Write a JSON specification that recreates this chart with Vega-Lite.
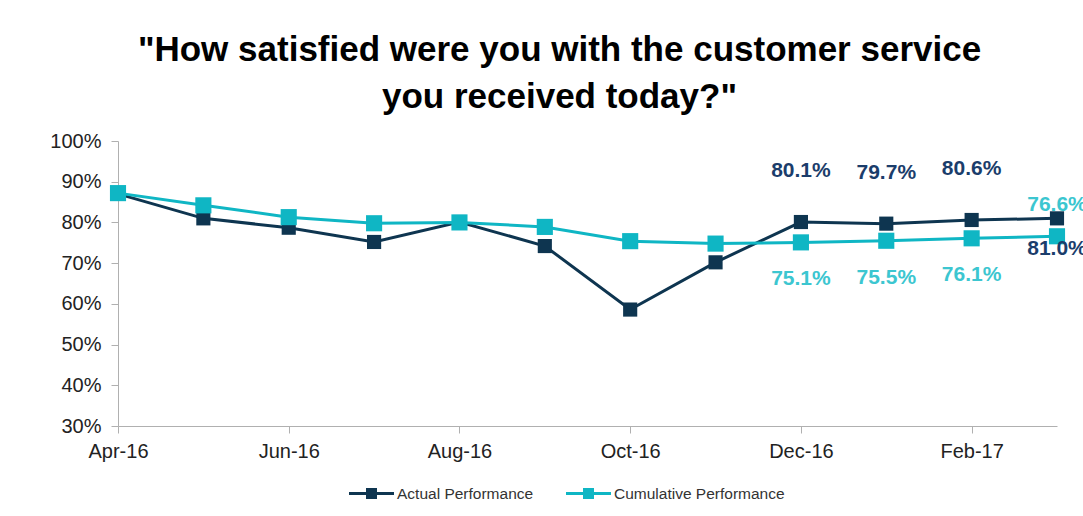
{
  "$schema": "https://vega.github.io/schema/vega-lite/v6.json",
  "autosize": {"type": "none"},
  "padding": {"left": 118, "top": 141, "right": 26, "bottom": 90},
  "width": 939,
  "height": 285,
  "background": "white",
  "title": {
    "text": ["\"How satisfied were you with the customer service", "you received today?\""],
    "font": "Liberation Sans",
    "fontSize": 35,
    "fontWeight": "bold",
    "color": "#000000",
    "lineHeight": 47,
    "anchor": "middle",
    "dx": -28,
    "offset": 16
  },
  "config": {
    "view": {"stroke": null},
    "axis": {"grid": false, "labelFont": "Liberation Sans", "labelColor": "#222222", "labelFontSize": 20, "domainColor": "#b0b0b0", "tickColor": "#b0b0b0", "tickSize": 7, "titleFontSize": 0}
  },
  "data": {
    "values": [
      {"month": "Apr-16", "series": "Actual Performance", "value": 0.870},
      {"month": "May-16", "series": "Actual Performance", "value": 0.810},
      {"month": "Jun-16", "series": "Actual Performance", "value": 0.787},
      {"month": "Jul-16", "series": "Actual Performance", "value": 0.752},
      {"month": "Aug-16", "series": "Actual Performance", "value": 0.801},
      {"month": "Sep-16", "series": "Actual Performance", "value": 0.742},
      {"month": "Oct-16", "series": "Actual Performance", "value": 0.586},
      {"month": "Nov-16", "series": "Actual Performance", "value": 0.702},
      {"month": "Dec-16", "series": "Actual Performance", "value": 0.801},
      {"month": "Jan-17", "series": "Actual Performance", "value": 0.797},
      {"month": "Feb-17", "series": "Actual Performance", "value": 0.806},
      {"month": "Mar-17", "series": "Actual Performance", "value": 0.810},
      {"month": "Apr-16", "series": "Cumulative Performance", "value": 0.872},
      {"month": "May-16", "series": "Cumulative Performance", "value": 0.842},
      {"month": "Jun-16", "series": "Cumulative Performance", "value": 0.813},
      {"month": "Jul-16", "series": "Cumulative Performance", "value": 0.798},
      {"month": "Aug-16", "series": "Cumulative Performance", "value": 0.800},
      {"month": "Sep-16", "series": "Cumulative Performance", "value": 0.789},
      {"month": "Oct-16", "series": "Cumulative Performance", "value": 0.754},
      {"month": "Nov-16", "series": "Cumulative Performance", "value": 0.748},
      {"month": "Dec-16", "series": "Cumulative Performance", "value": 0.751},
      {"month": "Jan-17", "series": "Cumulative Performance", "value": 0.755},
      {"month": "Feb-17", "series": "Cumulative Performance", "value": 0.761},
      {"month": "Mar-17", "series": "Cumulative Performance", "value": 0.766}
    ]
  },
  "encoding": {
    "x": {
      "field": "month", "type": "ordinal",
      "sort": ["Apr-16","May-16","Jun-16","Jul-16","Aug-16","Sep-16","Oct-16","Nov-16","Dec-16","Jan-17","Feb-17","Mar-17"],
      "scale": {"type": "point", "padding": 0},
      "axis": {"title": null, "labelAngle": 0, "values": ["Apr-16","Jun-16","Aug-16","Oct-16","Dec-16","Feb-17"], "labelPadding": 8}
    },
    "y": {
      "field": "value", "type": "quantitative",
      "scale": {"domain": [0.3, 1.0], "nice": false, "zero": false},
      "axis": {"title": null, "values": [0.3,0.4,0.5,0.6,0.7,0.8,0.9,1.0], "format": ".0%", "labelPadding": 10}
    },
    "color": {
      "field": "series", "type": "nominal",
      "scale": {"domain": ["Actual Performance", "Cumulative Performance"], "range": ["#0e3550", "#0fb6c4"]},
      "legend": {
        "title": null, "orient": "none", "direction": "horizontal",
        "legendX": 231, "legendY": 330,
        "symbolType": "M-1,-0.067H1V0.067H-1Z M-0.244,-0.244H0.244V0.244H-0.244Z",
        "symbolSize": 2025, "symbolStrokeWidth": 0,
        "labelFont": "Liberation Sans", "labelFontSize": 15.5, "labelColor": "#333333", "labelLimit": 300,
        "labelOffset": 3, "columnPadding": 32,
        "encode": {"symbols": {"update": {"fill": {"scale": "color", "field": "value"}, "fillOpacity": {"value": 1}, "strokeWidth": {"value": 0}}}}
      }
    }
  },
  "layer": [
    {"mark": {"type": "line", "strokeWidth": 3}},
    {
      "transform": [{"filter": {"field": "series", "equal": "Actual Performance"}}],
      "mark": {"type": "point", "shape": "square", "filled": true, "opacity": 1, "size": 200}
    },
    {
      "transform": [{"filter": {"field": "series", "equal": "Cumulative Performance"}}],
      "mark": {"type": "point", "shape": "square", "filled": true, "opacity": 1, "size": 260}
    },
    {
      "transform": [{"filter": {"and": [{"field": "series", "equal": "Actual Performance"}, {"field": "month", "oneOf": ["Dec-16", "Jan-17", "Feb-17"]}]}}],
      "mark": {"type": "text", "dy": -51, "font": "Liberation Sans", "fontSize": 21, "fontWeight": "bold"},
      "encoding": {"text": {"field": "value", "type": "quantitative", "format": ".1%"}, "color": {"value": "#1b3d6b"}}
    },
    {
      "transform": [{"filter": {"and": [{"field": "series", "equal": "Cumulative Performance"}, {"field": "month", "oneOf": ["Dec-16", "Jan-17", "Feb-17"]}]}}],
      "mark": {"type": "text", "dy": 37, "font": "Liberation Sans", "fontSize": 21, "fontWeight": "bold"},
      "encoding": {"text": {"field": "value", "type": "quantitative", "format": ".1%"}, "color": {"value": "#3cc6d0"}}
    },
    {
      "transform": [{"filter": {"and": [{"field": "series", "equal": "Actual Performance"}, {"field": "month", "equal": "Mar-17"}]}}],
      "mark": {"type": "text", "dy": 31, "font": "Liberation Sans", "fontSize": 21, "fontWeight": "bold"},
      "encoding": {"text": {"field": "value", "type": "quantitative", "format": ".1%"}, "color": {"value": "#1b3d6b"}}
    },
    {
      "transform": [{"filter": {"and": [{"field": "series", "equal": "Cumulative Performance"}, {"field": "month", "equal": "Mar-17"}]}}],
      "mark": {"type": "text", "dy": -31, "font": "Liberation Sans", "fontSize": 21, "fontWeight": "bold"},
      "encoding": {"text": {"field": "value", "type": "quantitative", "format": ".1%"}, "color": {"value": "#3cc6d0"}}
    }
  ]
}
